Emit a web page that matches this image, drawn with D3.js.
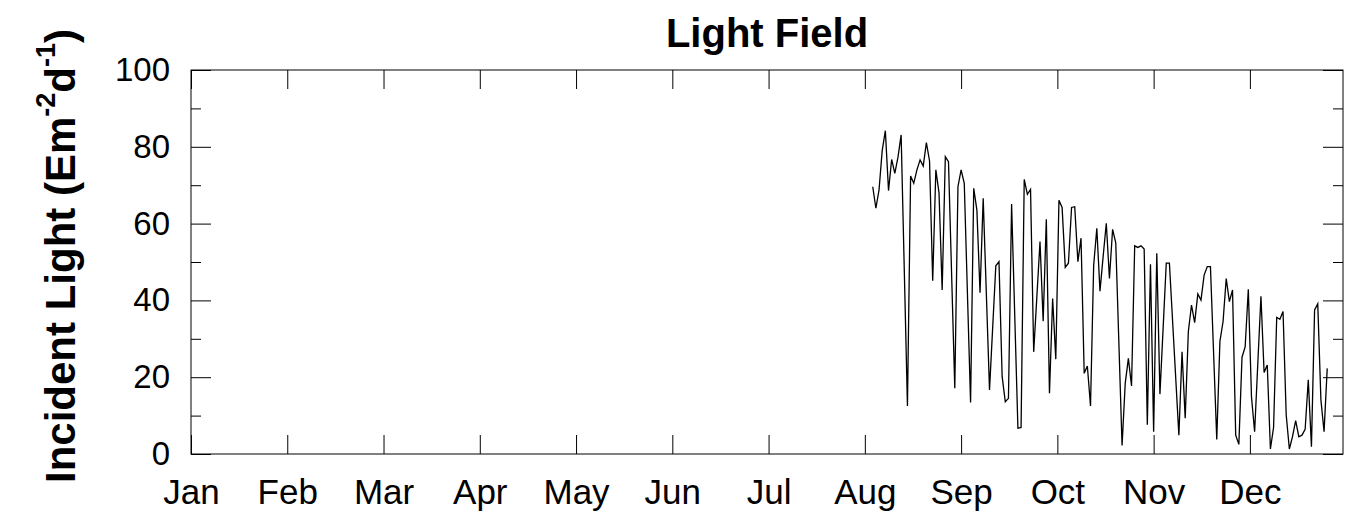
<!DOCTYPE html>
<html>
<head>
<meta charset="utf-8">
<script src="https://cdn.jsdelivr.net/npm/d3@7"></script>
<style>
  body { margin: 0; background: #fff; }
  svg text { font-family: "Liberation Sans", Arial, sans-serif; fill: #000; }
</style>
</head>
<body>
<svg id="chart" width="1348" height="514"></svg>
<script>
// day of year (0..365) for each daily reading
let days = [216,217,218,219,220,221,222,223,224,225,227,228,229,230,231,232,233,234,235,236,237,238,239,240,
  242,243,244,245,247,248,249,250,251,253,255,256,257,258,259,260,262,263,264,265,266,267,269,270,271,272,273,
  274,275,276,277,278,279,280,281,282,283,284,285,286,287,288,289,290,291,292,293,295,296,297,298,299,300,301,
  302,303,304,305,306,307,309,310,313,314,315,316,317,318,319,320,321,322,323,325,326,327,328,329,330,331,332,
  333,334,335,336,337,339,340,341,342,343,344,345,346,347,348,349,350,351,352,353,354,355,356,357,358,359,360]

// incident light, E m-2 d-1
let light = [69.6,64.0,68.8,79.0,84.2,68.6,76.7,73.1,77.3,83.1,12.5,72.4,70.5,74.0,76.6,75.0,81.1,76.3,45.1,74.0,68.0,42.7,77.4,76.1,
  17.1,69.6,74.0,70.5,13.4,69.2,63.5,42.0,66.6,16.7,49.0,50.1,20.2,13.6,14.5,65.1,6.7,6.9,71.5,67.6,68.9,26.6,55.3,34.6,61.1,15.8,40.5,
  24.7,66.1,64.2,48.6,49.7,64.2,64.4,50.1,56.2,21.0,22.9,12.5,49.1,58.8,42.4,51.4,60.1,45.7,58.5,55.0,2.2,18.4,24.9,17.7,54.2,53.8,54.2,
  53.4,7.6,49.4,5.8,52.3,15.6,49.7,49.7,4.9,26.6,9.3,31.9,38.8,34.2,41.7,40.1,46.6,48.8,48.8,3.8,29.3,34.5,45.7,39.7,42.7,4.9,2.5,
  25.2,27.9,42.9,14.9,5.8,41.1,21.2,23.2,1.3,6.9,35.6,35.1,37.1,10.2,1.3,4.5,8.7,4.5,4.9,6.4,19.3,1.9,37.5,39.1,14.1,5.8,22.3]

let months = ["Jan","Feb","Mar","Apr","May","Jun","Jul","Aug","Sep","Oct","Nov","Dec"]
let monthTicks = months.map((m, i) => i * 30.5)
let yMajor = [0, 20, 40, 60, 80, 100]
let yMinor = [10, 30, 50, 70, 90]

let svg = d3.select("#chart")
let plotLeft = 191, plotRight = 1343, plotTop = 70, plotBottom = 454

let x = d3.scaleLinear().domain([0, 365]).range([plotLeft, plotRight])
let y = d3.scaleLinear().domain([0, 100]).range([plotBottom, plotTop])

function clean(g) {
    g.select(".domain").remove()
    g.selectAll(".tick line").attr("stroke", "#000").attr("stroke-width", 1)
}

// left axis with labels
svg.append("g")
    .attr("transform", `translate(${plotLeft},0)`)
    .call(d3.axisLeft(y).tickValues(yMajor).tickSize(-20).tickPadding(21))
    .call(clean)
    .call(g => g.selectAll("text").attr("font-size", 33))
svg.append("g")
    .attr("transform", `translate(${plotLeft},0)`)
    .call(d3.axisLeft(y).tickValues(yMinor).tickSize(-10).tickFormat(""))
    .call(clean)

// right axis, ticks only
svg.append("g")
    .attr("transform", `translate(${plotRight},0)`)
    .call(d3.axisRight(y).tickValues(yMajor).tickSize(-20).tickFormat(""))
    .call(clean)
svg.append("g")
    .attr("transform", `translate(${plotRight},0)`)
    .call(d3.axisRight(y).tickValues(yMinor).tickSize(-10).tickFormat(""))
    .call(clean)

// bottom axis with month labels
svg.append("g")
    .attr("transform", `translate(0,${plotBottom})`)
    .call(d3.axisBottom(x).tickValues(monthTicks).tickSize(-19).tickPadding(25)
        .tickFormat((d, i) => months[i]))
    .call(clean)
    .call(g => g.selectAll("text").attr("font-size", 35))

// top axis, ticks only
svg.append("g")
    .attr("transform", `translate(0,${plotTop})`)
    .call(d3.axisTop(x).tickValues(monthTicks).tickSize(-19).tickFormat(""))
    .call(clean)

// frame
svg.append("rect")
    .attr("x", plotLeft).attr("y", plotTop)
    .attr("width", plotRight - plotLeft).attr("height", plotBottom - plotTop)
    .attr("fill", "none").attr("stroke", "#000").attr("stroke-width", 1)

// data line
let line = d3.line()
    .x((d, i) => x(days[i]))
    .y(d => y(d))

svg.append("path")
    .datum(light)
    .attr("d", line)
    .attr("fill", "none")
    .attr("stroke", "#000")
    .attr("stroke-width", 1.3)

// title
svg.append("text")
    .attr("x", (plotLeft + plotRight) / 2).attr("y", 47)
    .attr("text-anchor", "middle")
    .attr("font-size", 40).attr("font-weight", "bold")
    .text("Light Field")

// y axis title with superscripts
let yt = svg.append("text")
    .attr("transform", "translate(75,256) rotate(-90)")
    .attr("text-anchor", "middle")
    .attr("font-size", 42).attr("font-weight", "bold")
yt.append("tspan").text("Incident Light (Em")
yt.append("tspan").attr("dy", -20).attr("font-size", 27).text("-2")
yt.append("tspan").attr("dy", 20).text("d")
yt.append("tspan").attr("dy", -20).attr("font-size", 27).text("-1")
yt.append("tspan").attr("dy", 20).text(")")
</script>
</body>
</html>
